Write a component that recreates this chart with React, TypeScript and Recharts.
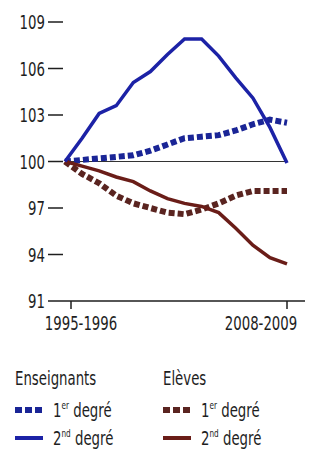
import { LineChart, Line, XAxis, YAxis, ReferenceLine } from 'recharts';

const FONT = "'DejaVu Sans Condensed', 'Liberation Sans', sans-serif";
const SQUEEZE = 0.74;

const years = [
  '1995-1996', '1996-1997', '1997-1998', '1998-1999', '1999-2000', '2000-2001', '2001-2002',
  '2002-2003', '2003-2004', '2004-2005', '2005-2006', '2006-2007', '2007-2008', '2008-2009',
];
const ensPremier = [100, 100.1, 100.2, 100.3, 100.4, 100.7, 101.1, 101.5, 101.6, 101.7, 102.0, 102.4, 102.7, 102.5];
const ensSecond = [100, 101.5, 103.1, 103.6, 105.1, 105.8, 106.9, 107.9, 107.9, 106.8, 105.4, 104.1, 102.2, 99.9];
const elePremier = [100, 99.2, 98.6, 97.8, 97.3, 97.0, 96.7, 96.6, 96.9, 97.3, 97.8, 98.1, 98.1, 98.1];
const eleSecond = [100, 99.7, 99.4, 99.0, 98.7, 98.1, 97.6, 97.3, 97.1, 96.7, 95.7, 94.6, 93.8, 93.4];
const yTicks = [91, 94, 97, 100, 103, 106, 109];

const BLUE = '#1c22a6';
const BLUE_DARK = '#1a2596';
const BROWN = '#6a1d18';
const BROWN_DARK = '#5a2420';
const INK = '#1e1e1e';

const data = years.map((y, i) => ({
  year: y,
  ensPremier: ensPremier[i],
  ensSecond: ensSecond[i],
  elePremier: elePremier[i],
  eleSecond: eleSecond[i],
}));

// condensed text: the source uses a narrow newspaper face
const Narrow = ({ x, y, anchor = 'start', size = 20, children }: any) => (
  <text
    transform={`translate(${x},${y}) scale(${SQUEEZE},1)`}
    textAnchor={anchor}
    fontFamily={FONT}
    fontSize={size}
    fill={INK}
  >
    {children}
  </text>
);

const YTick = ({ x, y, payload }: any) => (
  <Narrow x={x} y={y + 7} anchor="end">{payload.value}</Narrow>
);

const XTick = ({ x, y, payload, index }: any) => {
  const last = years.length - 1;
  if (index !== 0 && index !== last) return null;
  const lineX = index === 0 ? x + 6 : x;
  const dx = index === 0 ? 16 : -26;
  return (
    <g>
      <line x1={lineX} x2={lineX} y1={y - 10} y2={y - 2} stroke={INK} strokeWidth={1.5} />
      <Narrow x={x + dx} y={y + 19} anchor="middle">{payload.value}</Narrow>
    </g>
  );
};

const LegendItem = ({ x, y, color, dashed, num, sup }: any) => (
  <g>
    <line
      x1={x}
      x2={x + 28}
      y1={y}
      y2={y}
      stroke={color}
      strokeWidth={dashed ? 6 : 4}
      strokeDasharray={dashed ? '7 3' : undefined}
    />
    <Narrow x={x + 38} y={y + 7}>
      {num}
      <tspan fontSize={11} dy={-8}>{sup}</tspan>
      <tspan dy={8}> degré</tspan>
    </Narrow>
  </g>
);

export default function App() {
  return (
    <div style={{ position: 'absolute', left: 0, top: 0, width: 311, height: 455, background: '#fff' }}>
      <LineChart width={311} height={455} data={data} margin={{ top: 22, right: 6, bottom: 124, left: 0 }}>
        <XAxis
          dataKey="year"
          interval={0}
          tick={<XTick />}
          tickLine={false}
          tickSize={8}
          axisLine={{ stroke: INK, strokeWidth: 1.5 }}
          padding={{ left: 2, right: 18 }}
        />
        <YAxis
          domain={[91, 109]}
          ticks={yTicks}
          width={63}
          tickSize={15}
          tickMargin={3}
          axisLine={false}
          tickLine={{ stroke: INK, strokeWidth: 1.5 }}
          tick={<YTick />}
        />
        <ReferenceLine
          segment={[{ x: years[0], y: 100 }, { x: years[years.length - 1], y: 100 }]}
          stroke="#333"
          strokeWidth={1.2}
        />
        <Line dataKey="ensPremier" stroke={BLUE_DARK} strokeWidth={6} strokeDasharray="6 3" dot={false} isAnimationActive={false} />
        <Line dataKey="elePremier" stroke={BROWN_DARK} strokeWidth={6} strokeDasharray="6 3" dot={false} isAnimationActive={false} />
        <Line dataKey="eleSecond" stroke={BROWN} strokeWidth={3.5} dot={false} isAnimationActive={false} />
        <Line dataKey="ensSecond" stroke={BLUE} strokeWidth={3.5} dot={false} isAnimationActive={false} />
      </LineChart>
      <svg width={311} height={100} style={{ position: 'absolute', left: 0, top: 360 }}>
        <Narrow x={15} y={25}>Enseignants</Narrow>
        <Narrow x={163} y={25}>Elèves</Narrow>
        <LegendItem x={15} y={50} color={BLUE_DARK} dashed num="1" sup="er" />
        <LegendItem x={15} y={78} color={BLUE} num="2" sup="nd" />
        <LegendItem x={163} y={50} color={BROWN_DARK} dashed num="1" sup="er" />
        <LegendItem x={163} y={78} color={BROWN} num="2" sup="nd" />
      </svg>
    </div>
  );
}
